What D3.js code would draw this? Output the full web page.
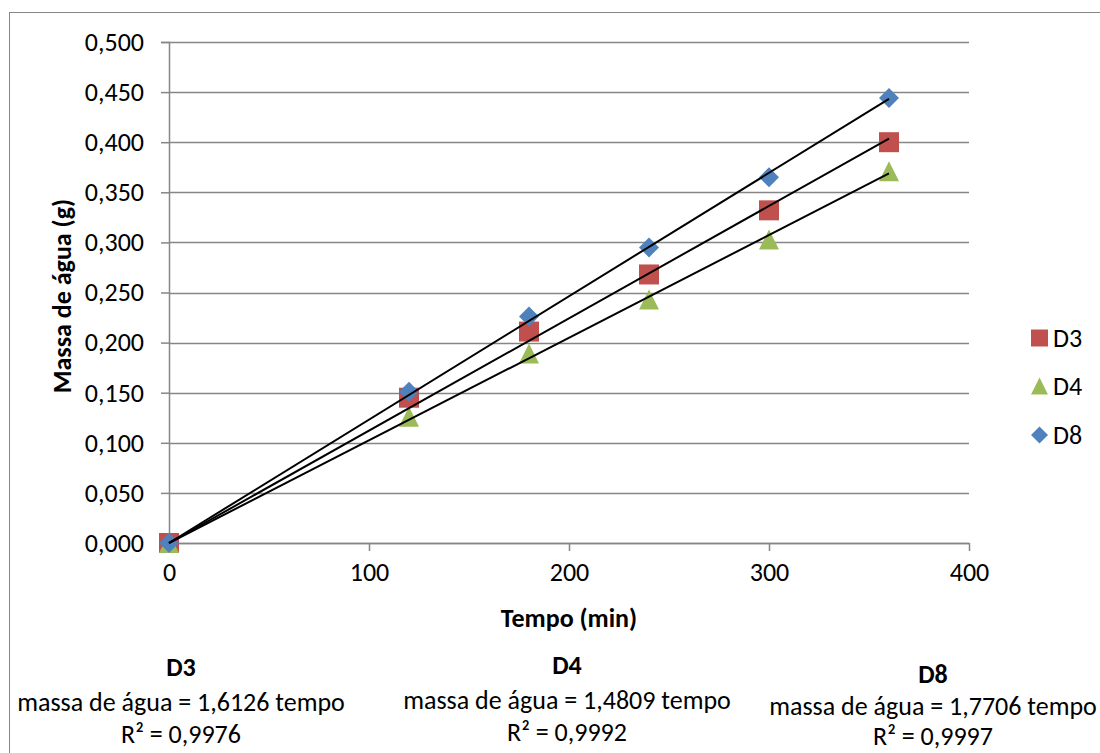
<!DOCTYPE html>
<html>
<head>
<meta charset="utf-8">
<script src="https://cdn.jsdelivr.net/npm/d3@7"></script>
<style>
  html, body { margin: 0; padding: 0; background: #fff; }
  svg { display: block; font-family: Carlito, Calibri, Lato, sans-serif; }
</style>
</head>
<body>
<svg id="chart" width="1100" height="753"></svg>
<script>
const tempo = [0, 120, 180, 240, 300, 360];
const seriesNames = ["D3", "D4", "D8"];
const valuesD3 = [0, 0.145, 0.211, 0.268, 0.332, 0.400];
const valuesD4 = [0, 0.126, 0.189, 0.243, 0.303, 0.371];
const valuesD8 = [0, 0.151, 0.226, 0.295, 0.365, 0.444];
const yTicks = [0, 0.05, 0.1, 0.15, 0.2, 0.25, 0.3, 0.35, 0.4, 0.45, 0.5];
const xTicks = [0, 100, 200, 300, 400];
const equations = ["massa de água = 1,6126 tempo", "massa de água = 1,4809 tempo", "massa de água = 1,7706 tempo"];
const r2Labels = ["R² = 0,9976", "R² = 0,9992", "R² = 0,9997"];

const colors = {D3: "#C0504D", D4: "#9BBB59", D8: "#4F81BD"};
const allValues = {D3: valuesD3, D4: valuesD4, D8: valuesD8};

function shapePath(name, s) {
  const h = s / 2;
  if (name === "D3") return `M${-h},${-h}H${h}V${h}H${-h}Z`;
  if (name === "D4") return `M0,${-h}L${h},${h}L${-h},${h}Z`;
  return `M0,${-h}L${h},0L0,${h}L${-h},0Z`;
}

const svg = d3.select("#chart");
const fontFam = "Carlito, Calibri, Lato, sans-serif";
const FS = 26;

// outer border
svg.append("rect").attr("x", 9.5).attr("y", 12.5).attr("width", 1100).attr("height", 760)
  .attr("fill", "none").attr("stroke", "#868686").attr("stroke-width", 1);

const x = d3.scaleLinear().domain([0, 400]).range([169, 969]);
const y = d3.scaleLinear().domain([0, 0.5]).range([543, 42]);

// gridlines
svg.append("g").selectAll("line").data(yTicks).join("line")
  .attr("x1", x(0)).attr("x2", x(400))
  .attr("y1", d => Math.round(y(d)) + 0.5).attr("y2", d => Math.round(y(d)) + 0.5)
  .attr("stroke", "#868686").attr("stroke-width", 1.5);

// y axis
const yAxis = svg.append("g").attr("transform", `translate(${x(0)},0)`)
  .call(d3.axisLeft(y).tickValues(yTicks).tickSize(8).tickPadding(17)
    .tickFormat(d => d3.format(".3f")(d).replace(".", ",")));
yAxis.select(".domain").attr("stroke", "#868686").attr("stroke-width", 1.5);
yAxis.selectAll(".tick line").attr("stroke", "#868686").attr("stroke-width", 1.5);
yAxis.selectAll("text").attr("font-size", FS).attr("font-family", fontFam).attr("fill", "#000");

// x axis
const xAxis = svg.append("g").attr("transform", `translate(0,${y(0)})`)
  .call(d3.axisBottom(x).tickValues(xTicks).tickSize(8).tickSizeOuter(0).tickPadding(12));
xAxis.select(".domain").attr("stroke", "#868686").attr("stroke-width", 1.5);
xAxis.selectAll(".tick line").attr("stroke", "#868686").attr("stroke-width", 1.5);
xAxis.selectAll("text").attr("font-size", FS).attr("font-family", fontFam).attr("fill", "#000");

// axis titles
svg.append("text").attr("x", 569).attr("y", 627).attr("text-anchor", "middle")
  .attr("font-weight", "bold").attr("font-size", FS).attr("font-family", fontFam).text("Tempo (min)");
svg.append("text").attr("transform", "translate(71,296) rotate(-90)").attr("text-anchor", "middle")
  .attr("font-weight", "bold").attr("font-size", FS).attr("font-family", fontFam).text("Massa de água (g)");

// markers
seriesNames.forEach(name => {
  const vals = allValues[name];
  svg.append("g").selectAll("path").data(tempo.map((t, i) => [t, vals[i]])).join("path")
    .attr("d", shapePath(name, 20))
    .attr("transform", d => `translate(${x(d[0])},${y(d[1])})`)
    .attr("fill", colors[name]);
});

// trendlines (least squares through origin)
seriesNames.forEach(name => {
  const vals = allValues[name];
  const sxy = d3.sum(tempo, (t, i) => t * vals[i]);
  const sxx = d3.sum(tempo, t => t * t);
  const slope = sxy / sxx;
  svg.append("line")
    .attr("x1", x(0)).attr("y1", y(0))
    .attr("x2", x(360)).attr("y2", y(slope * 360))
    .attr("stroke", "#000").attr("stroke-width", 2);
});

// legend
const legendY = [338, 386, 435];
seriesNames.forEach((name, i) => {
  svg.append("path").attr("d", shapePath(name, 17))
    .attr("transform", `translate(1039.5,${legendY[i]})`)
    .attr("fill", colors[name]);
  svg.append("text").attr("x", 1053).attr("y", legendY[i] + 9)
    .attr("font-size", FS).attr("font-family", fontFam).text(name);
});

// equation blocks
const blockX = [181, 567, 933];
const blockY = [[676, 711, 743], [674, 709, 741], [683, 715, 745]];
seriesNames.forEach((name, i) => {
  svg.append("text").attr("x", blockX[i]).attr("y", blockY[i][0]).attr("text-anchor", "middle")
    .attr("font-weight", "bold").attr("font-size", FS).attr("font-family", fontFam).text(name);
  svg.append("text").attr("x", blockX[i]).attr("y", blockY[i][1]).attr("text-anchor", "middle")
    .attr("font-size", FS).attr("font-family", fontFam).text(equations[i]);
  svg.append("text").attr("x", blockX[i]).attr("y", blockY[i][2]).attr("text-anchor", "middle")
    .attr("font-size", FS).attr("font-family", fontFam).text(r2Labels[i]);
});
</script>
</body>
</html>
